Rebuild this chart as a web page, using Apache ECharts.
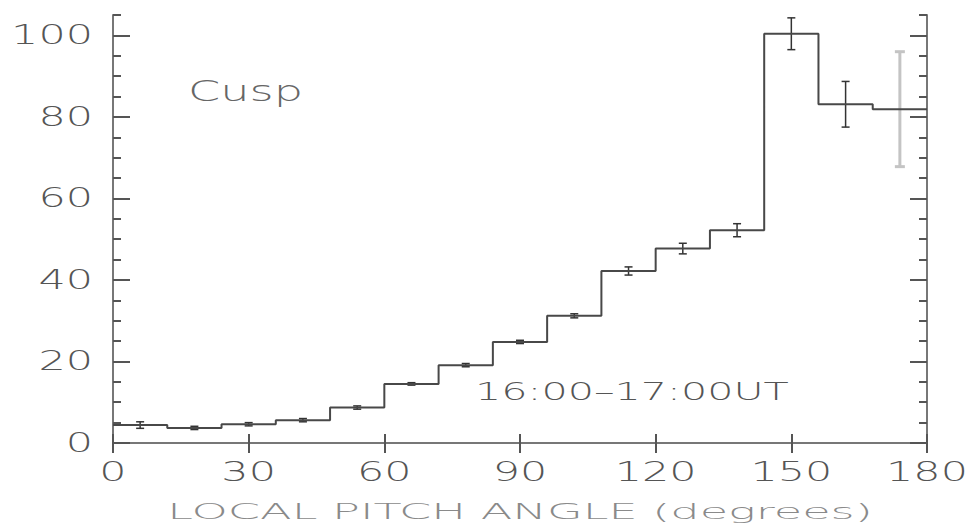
<!DOCTYPE html>
<html>
<head>
<meta charset="utf-8">
<script src="https://cdn.jsdelivr.net/npm/echarts@6/dist/echarts.min.js"></script>
<style>
html, body { margin: 0; padding: 0; background: #fff; }
#chart { width: 971px; height: 526px; }
</style>
</head>
<body>
<div id="chart"></div>
<script>
// 12 degree pitch angle bins
var binEdges = [0, 12, 24, 36, 48, 60, 72, 84, 96, 108, 120, 132, 144, 156, 168, 180];
var counts = [4.4, 3.7, 4.6, 5.6, 8.7, 14.5, 19.1, 24.8, 31.2, 42.2, 47.7, 52.2, 100.4, 83.1, 81.9];
var errors = [0.8, 0.4, 0.4, 0.4, 0.4, 0.3, 0.4, 0.4, 0.5, 1.0, 1.3, 1.6, 3.9, 5.6, 14.1];
var xTicks = [0, 30, 60, 90, 120, 150, 180];
var yTicks = [0, 20, 40, 60, 80, 100];

var FONT = 'DejaVu Sans';

// the original plot font is a very wide vector font, so widen the svg text
function widenTexts() {
    var texts = document.querySelectorAll('#chart svg text');
    texts.forEach(function (t) {
        if (t.getAttribute('data-w')) return;
        var w = t.getComputedTextLength();
        if (!w) return;
        t.setAttribute('data-w', w);
        var k = t.textContent.length > 20 ? 2.2 : 1.65;
        t.setAttribute('textLength', (w * k).toFixed(1));
        t.setAttribute('lengthAdjust', 'spacingAndGlyphs');
    });
}

window.addEventListener('load', function () {
    var chart = echarts.init(document.getElementById('chart'), null, {renderer: 'svg'});

    // histogram outline: point at each left edge, plus the closing right edge
    var stepData = binEdges.map(function (e, i) {
        return [e, counts[Math.min(i, counts.length - 1)]];
    });

    var errData = counts.map(function (c, i) {
        return [(binEdges[i] + binEdges[i + 1]) / 2, c - errors[i], c + errors[i]];
    });

    var axisLineStyle = {color: '#777', width: 2};
    var tickStyle = {color: '#555', width: 2};

    var option = {
        animation: false,
        backgroundColor: '#fff',
        grid: {left: 113, right: 44, top: 15, bottom: 83, outerBoundsMode: 'none'},
        xAxis: [{
            type: 'value',
            position: 'bottom',
            min: 0,
            max: 180,
            axisLine: {lineStyle: axisLineStyle},
            axisTick: {inside: true, length: 9, customValues: xTicks, lineStyle: tickStyle},
            axisLabel: {customValues: xTicks, margin: 16, fontSize: 26, fontFamily: FONT, fontWeight: 200, color: '#555'},
            splitLine: {show: false},
            name: 'LOCAL PITCH ANGLE (degrees)',
            nameLocation: 'middle',
            nameGap: 58,
            nameTextStyle: {fontSize: 21, fontFamily: FONT, fontWeight: 200, color: '#8a8a8a'}
        }, {
            type: 'value',
            position: 'top',
            min: 0,
            max: 180,
            axisLine: {lineStyle: axisLineStyle},
            axisTick: {inside: true, length: 10, customValues: xTicks, lineStyle: tickStyle},
            axisLabel: {show: false},
            splitLine: {show: false}
        }],
        yAxis: [{
            type: 'value',
            position: 'left',
            min: 0,
            max: 105,
            axisLine: {show: true, lineStyle: axisLineStyle},
            axisTick: {inside: true, length: 17, customValues: yTicks, lineStyle: tickStyle},
            axisLabel: {customValues: yTicks, margin: 20, fontSize: 26, fontFamily: FONT, fontWeight: 200, color: '#555'},
            splitLine: {show: false}
        }, {
            type: 'value',
            position: 'left',
            min: 0,
            max: 105,
            interval: 5,
            axisLine: {show: false},
            axisTick: {inside: true, length: 8, lineStyle: tickStyle},
            axisLabel: {show: false},
            splitLine: {show: false}
        }, {
            type: 'value',
            position: 'right',
            min: 0,
            max: 105,
            axisLine: {show: true, lineStyle: axisLineStyle},
            axisTick: {inside: true, length: 17, customValues: yTicks, lineStyle: tickStyle},
            axisLabel: {show: false},
            splitLine: {show: false}
        }, {
            type: 'value',
            position: 'right',
            min: 0,
            max: 105,
            interval: 5,
            axisLine: {show: false},
            axisTick: {inside: true, length: 8, lineStyle: tickStyle},
            axisLabel: {show: false},
            splitLine: {show: false}
        }],
        graphic: [{
            type: 'text',
            x: 188,
            y: 91,
            style: {text: 'Cusp', fontSize: 28, fontFamily: FONT, fontWeight: 200, fill: '#666', verticalAlign: 'middle'}
        }, {
            type: 'text',
            x: 475,
            y: 391,
            style: {text: '16:00\u201317:00UT', fontSize: 25, fontFamily: FONT, fontWeight: 200, fill: '#555', verticalAlign: 'middle'}
        }],
        series: [{
            type: 'line',
            data: stepData,
            step: 'end',
            symbol: 'none',
            lineStyle: {color: '#484848', width: 2},
            z: 3
        }, {
            type: 'custom',
            data: errData,
            encode: {x: 0, y: [1, 2]},
            z: 2,
            renderItem: function (params, api) {
                var x = api.value(0);
                var lo = api.coord([x, api.value(1)]);
                var hi = api.coord([x, api.value(2)]);
                var last = params.dataIndex === counts.length - 1;
                var style = {stroke: last ? '#c4c4c4' : '#333', lineWidth: last ? 3 : 1.5};
                var w = last ? 5 : 4;
                return {
                    type: 'group',
                    children: [
                        {type: 'line', shape: {x1: lo[0], y1: lo[1], x2: hi[0], y2: hi[1]}, style: style},
                        {type: 'line', shape: {x1: lo[0] - w, y1: lo[1], x2: lo[0] + w, y2: lo[1]}, style: style},
                        {type: 'line', shape: {x1: hi[0] - w, y1: hi[1], x2: hi[0] + w, y2: hi[1]}, style: style}
                    ]
                };
            }
        }]
    };

    chart.on('finished', widenTexts);
    chart.setOption(option);
    widenTexts();
}, false);
</script>
</body>
</html>
